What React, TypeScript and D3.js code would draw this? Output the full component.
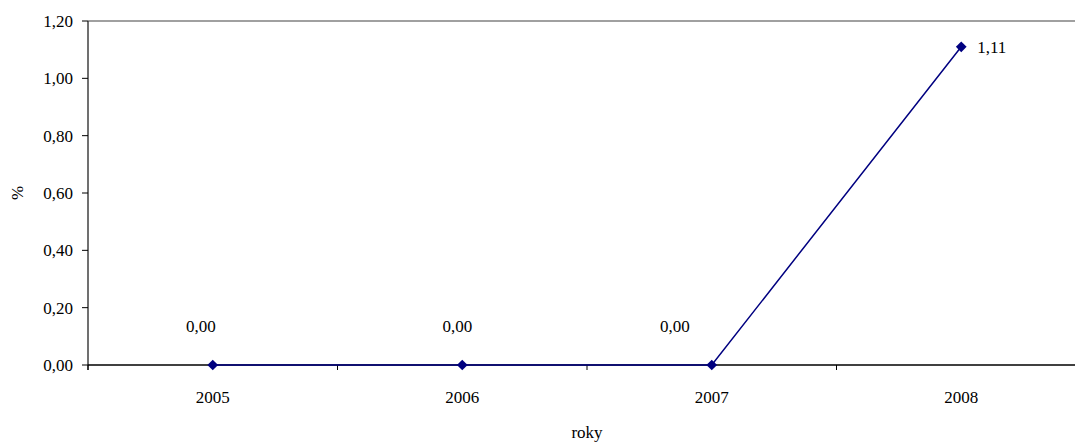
import React from "react";
import * as d3 from "d3";

const years = ["2005", "2006", "2007", "2008"];
const values = [0.0, 0.0, 0.0, 1.11];
const yTicks = [0, 0.2, 0.4, 0.6, 0.8, 1.0, 1.2];

const W = 1075;
const H = 443;
const margin = { left: 88, top: 21, bottom: 78 };
const plotRight = 1086;

const fmt = (v: number) => v.toFixed(2).replace(".", ",");

export default function App() {
  const x = d3.scaleBand<string>().domain(years).range([margin.left, plotRight]);
  const y = d3.scaleLinear().domain([0, 1.2]).range([H - margin.bottom, margin.top]);
  const cx = (c: string) => (x(c) ?? 0) + x.bandwidth() / 2;
  const line = d3
    .line<number>()
    .x((_, i) => cx(years[i]))
    .y((v) => y(v));
  const y0 = y(0);
  // horizontal nudges for the value labels so they clear the line
  const labelDx = [-12, -5, -37, 0];

  return (
    <svg
      width={W}
      height={H}
      style={{
        position: "absolute",
        left: 0,
        top: 0,
        background: "#fff",
        fontFamily: '"Liberation Serif", "Times New Roman", Times, serif',
      }}
    >
      {/* top frame line */}
      <line x1={margin.left} x2={plotRight} y1={y(1.2)} y2={y(1.2)} stroke="#808080" strokeWidth={1.5} />
      {/* y axis */}
      <line x1={margin.left} x2={margin.left} y1={y(1.2)} y2={y0 + 5} stroke="#404040" strokeWidth={1.5} />
      {yTicks.map((t) => (
        <g key={t}>
          <line x1={margin.left - 6} x2={margin.left} y1={y(t)} y2={y(t)} stroke="#000" strokeWidth={1} />
          <text x={margin.left - 15} y={y(t)} dy="0.35em" textAnchor="end" fontSize={17} fill="#000">
            {fmt(t)}
          </text>
        </g>
      ))}
      {/* x axis */}
      <line x1={margin.left} x2={plotRight} y1={y0} y2={y0} stroke="#000" strokeWidth={1.5} />
      {years.map((c) => (
        <g key={c}>
          <line x1={x(c) ?? 0} x2={x(c) ?? 0} y1={y0} y2={y0 + 5} stroke="#000" strokeWidth={1} />
          <text x={cx(c)} y={397} dy="0.35em" textAnchor="middle" fontSize={17} fill="#000">
            {c}
          </text>
        </g>
      ))}
      {/* axis titles */}
      <text x={(margin.left + plotRight) / 2} y={432} dy="0.35em" textAnchor="middle" fontSize={17} fill="#000">
        roky
      </text>
      <text
        transform={`translate(17, ${(y(1.2) + y0) / 2}) rotate(-90)`}
        dy="0.35em"
        textAnchor="middle"
        fontSize={17}
        fill="#000"
      >
        %
      </text>
      {/* series */}
      <path d={line(values) ?? ""} fill="none" stroke="#000080" strokeWidth={1.5} />
      {values.map((v, i) => (
        <rect
          key={i}
          x={cx(years[i]) - 3.8}
          y={y(v) - 3.8}
          width={7.6}
          height={7.6}
          fill="#000080"
          transform={`rotate(45, ${cx(years[i])}, ${y(v)})`}
        />
      ))}
      {values.map((v, i) =>
        v === 0 ? (
          <text key={i} x={cx(years[i]) + labelDx[i]} y={y(v) - 39} dy="0.35em" textAnchor="middle" fontSize={17} fill="#000">
            {fmt(v)}
          </text>
        ) : (
          <text key={i} x={cx(years[i]) + 16} y={y(v)} dy="0.35em" textAnchor="start" fontSize={17} fill="#000">
            {fmt(v)}
          </text>
        )
      )}
    </svg>
  );
}
